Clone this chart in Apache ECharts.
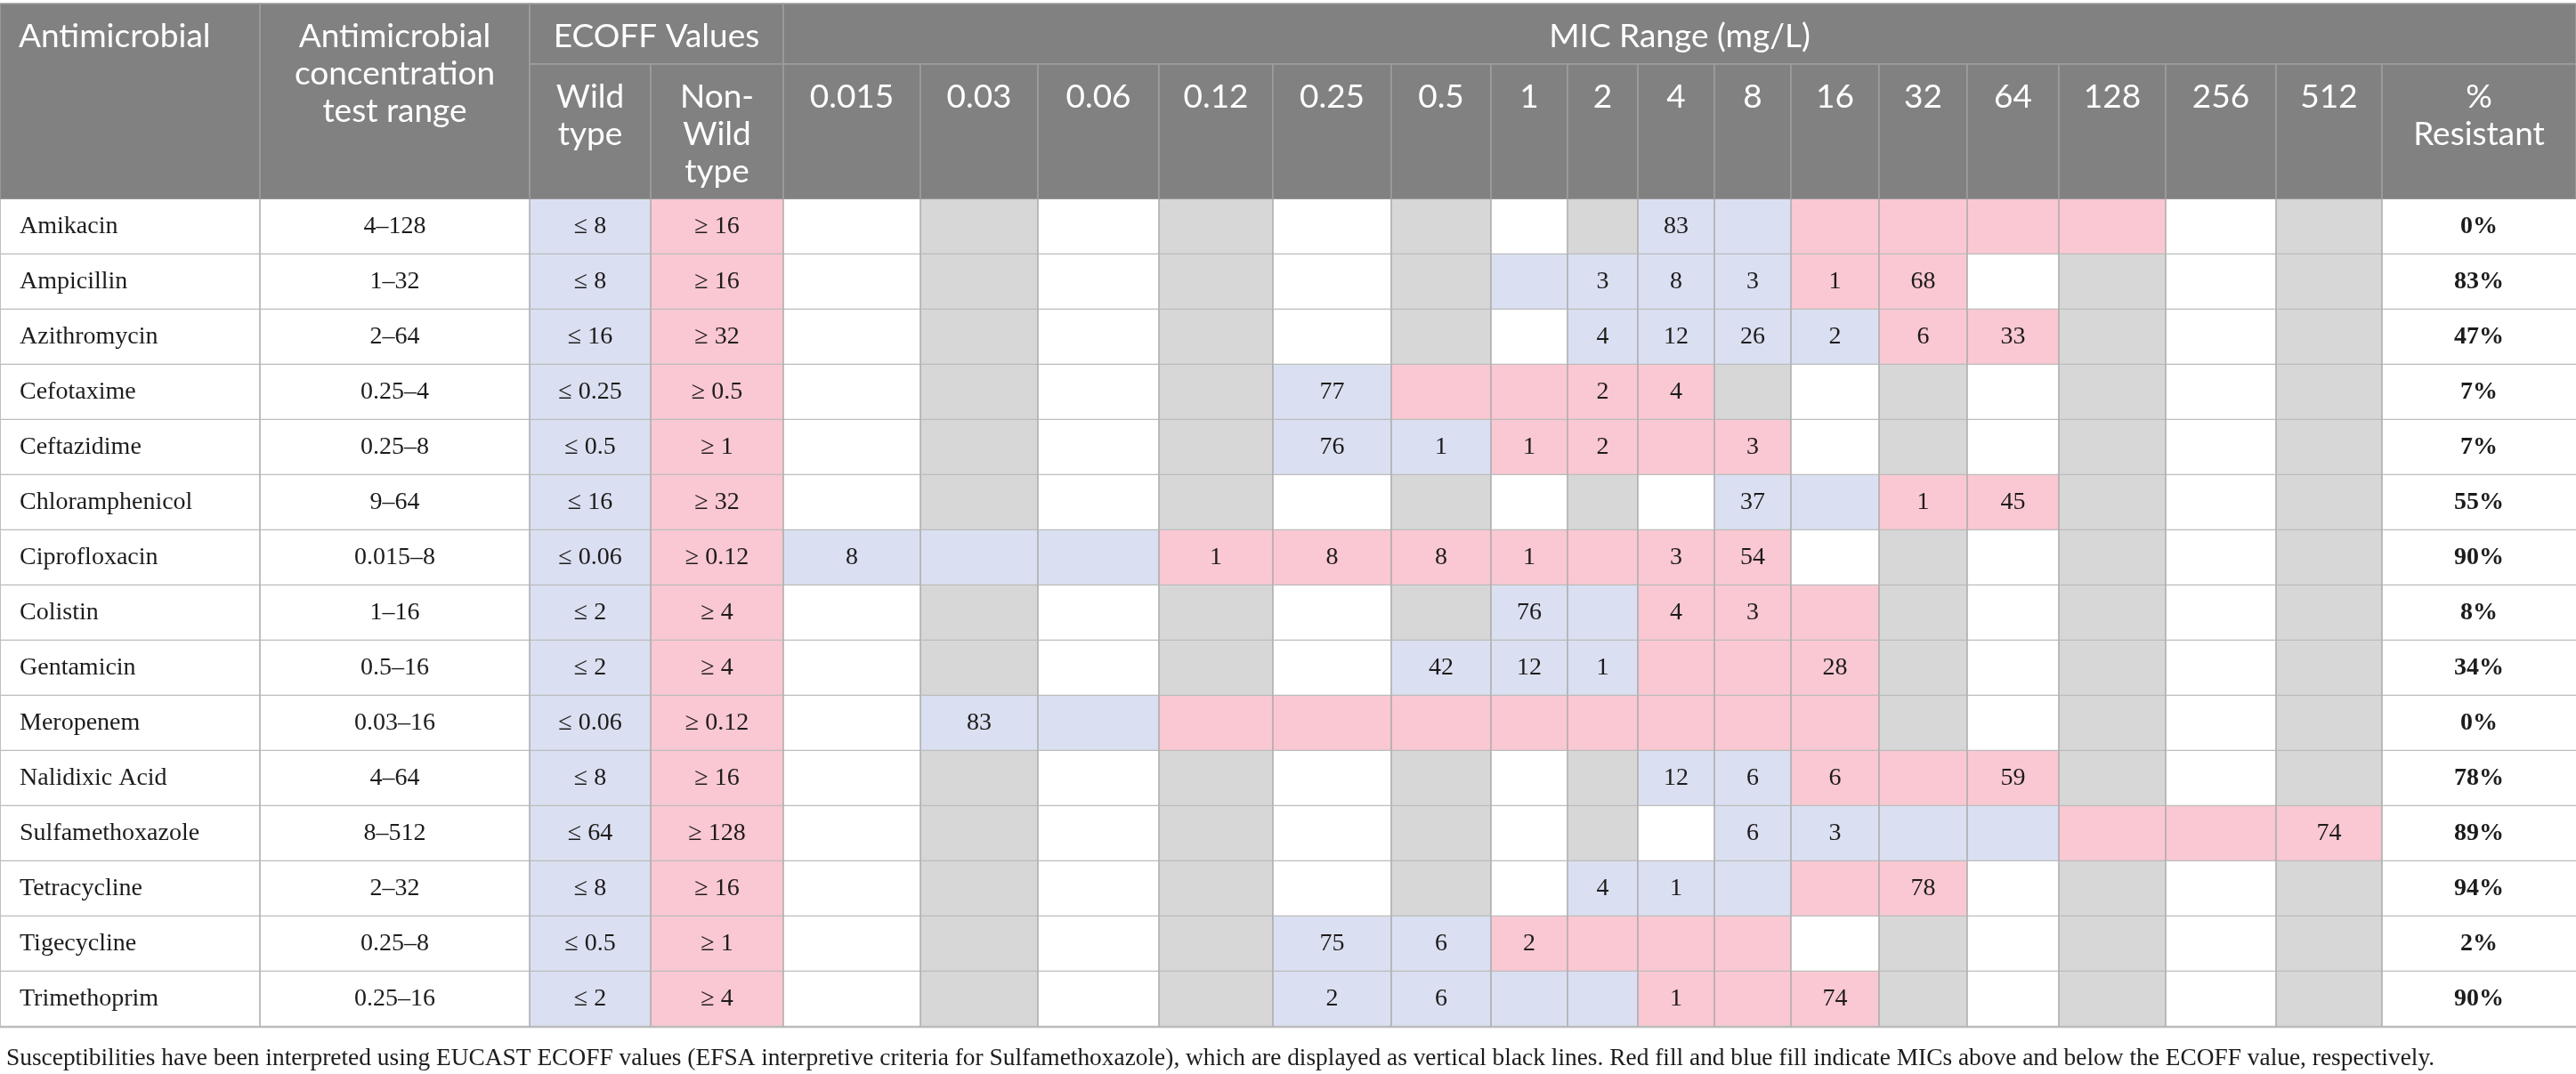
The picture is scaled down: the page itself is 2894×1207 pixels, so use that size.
<!DOCTYPE html>
<html>
<head>
<meta charset="utf-8">
<script src="https://cdn.jsdelivr.net/npm/echarts@6/dist/echarts.min.js"></script>
<style>
  html, body { margin: 0; padding: 0; background: #fff; }
  #chart { width: 2894px; height: 1207px; }
</style>
</head>
<body>
<div id="chart"></div>
<script>
const antimicrobials = ['Amikacin', 'Ampicillin', 'Azithromycin', 'Cefotaxime', 'Ceftazidime', 'Chloramphenicol',
  'Ciprofloxacin', 'Colistin', 'Gentamicin', 'Meropenem', 'Nalidixic Acid', 'Sulfamethoxazole',
  'Tetracycline', 'Tigecycline', 'Trimethoprim'];
const testRangeLabels = ['4–128', '1–32', '2–64', '0.25–4', '0.25–8', '9–64', '0.015–8', '1–16', '0.5–16',
  '0.03–16', '4–64', '8–512', '2–32', '0.25–8', '0.25–16'];
// tested concentrations (lowest / highest well)
const testLow = [4, 1, 2, 0.25, 0.25, 8, 0.015, 1, 0.5, 0.03, 4, 8, 2, 0.25, 0.25];
const testHigh = [128, 32, 64, 4, 8, 64, 8, 16, 16, 16, 64, 512, 32, 8, 16];
const wildTypeLabels = ['≤ 8', '≤ 8', '≤ 16', '≤ 0.25', '≤ 0.5', '≤ 16', '≤ 0.06', '≤ 2', '≤ 2', '≤ 0.06',
  '≤ 8', '≤ 64', '≤ 8', '≤ 0.5', '≤ 2'];
const nonWildLabels = ['≥ 16', '≥ 16', '≥ 32', '≥ 0.5', '≥ 1', '≥ 32', '≥ 0.12', '≥ 4', '≥ 4', '≥ 0.12',
  '≥ 16', '≥ 128', '≥ 16', '≥ 1', '≥ 4'];
const ecoffValues = [8, 8, 16, 0.25, 0.5, 16, 0.06, 2, 2, 0.06, 8, 64, 8, 0.5, 2];
const micLabels = ['0.015', '0.03', '0.06', '0.12', '0.25', '0.5', '1', '2', '4', '8', '16', '32', '64', '128', '256', '512'];
// number of isolates per MIC
const micCounts = [
  { '4': 83 },
  { '2': 3, '4': 8, '8': 3, '16': 1, '32': 68 },
  { '2': 4, '4': 12, '8': 26, '16': 2, '32': 6, '64': 33 },
  { '0.25': 77, '2': 2, '4': 4 },
  { '0.25': 76, '0.5': 1, '1': 1, '2': 2, '8': 3 },
  { '8': 37, '32': 1, '64': 45 },
  { '0.015': 8, '0.12': 1, '0.25': 8, '0.5': 8, '1': 1, '4': 3, '8': 54 },
  { '1': 76, '4': 4, '8': 3 },
  { '0.5': 42, '1': 12, '2': 1, '16': 28 },
  { '0.03': 83 },
  { '4': 12, '8': 6, '16': 6, '64': 59 },
  { '8': 6, '16': 3, '512': 74 },
  { '2': 4, '4': 1, '32': 78 },
  { '0.25': 75, '0.5': 6, '1': 2 },
  { '0.25': 2, '0.5': 6, '4': 1, '16': 74 }
];
const percentResistant = [0, 83, 47, 7, 7, 55, 90, 8, 34, 0, 78, 89, 94, 2, 90];
const caption = 'Susceptibilities have been interpreted using EUCAST ECOFF values (EFSA interpretive criteria for Sulfamethoxazole), which are displayed as vertical black lines. Red fill and blue fill indicate MICs above and below the ECOFF value, respectively.';

// ---- layout ----
const W = 2894, H = 1207;
const colEdges = [0, 292, 595, 731, 880, 1034, 1166, 1302, 1430, 1563, 1675, 1761, 1840, 1926, 2012,
  2111, 2210, 2313, 2433, 2557, 2676, 2894];
const tableTop = 4, headSplit = 72, headBottom = 224, rowH = 62;
const firstLine = 37, lineGap = 42;
const colors = {
  head: '#808180', headLine: '#9d9e9d', blue: '#dae0f1', pink: '#f9c8d2', grey: '#d7d7d7',
  white: '#ffffff', vLine: '#aaaaaa', hLine: '#bcbcbc', ink: '#1e1b1c'
};
const sansFont = 'Lato, "Open Sans", sans-serif';
const serifFont = '"Liberation Serif", "DejaVu Serif", serif';

// ---- header cells ----
const headerCells = [
  { c0: 0, c1: 1, top: true, full: true, lines: ['Antimicrobial'], left: true },
  { c0: 1, c1: 2, top: true, full: true, lines: ['Antimicrobial', 'concentration', 'test range'] },
  { c0: 2, c1: 4, top: true, lines: ['ECOFF Values'] },
  { c0: 2, c1: 3, lines: ['Wild', 'type'] },
  { c0: 3, c1: 4, lines: ['Non-', 'Wild', 'type'] },
  { c0: 4, c1: 21, top: true, lines: ['MIC Range (mg/L)'] }
];
micLabels.forEach((m, i) => headerCells.push({ c0: 4 + i, c1: 5 + i, lines: [m] }));
headerCells.push({ c0: 20, c1: 21, lines: ['%', 'Resistant'] });

// ---- body cells ----
const micValues = micLabels.map(Number);
const bodyCells = [];
antimicrobials.forEach((name, r) => {
  bodyCells.push({ c: 0, r, fill: 'white', text: name, left: true });
  bodyCells.push({ c: 1, r, fill: 'white', text: testRangeLabels[r] });
  bodyCells.push({ c: 2, r, fill: 'blue', text: wildTypeLabels[r] });
  bodyCells.push({ c: 3, r, fill: 'pink', text: nonWildLabels[r] });
  micValues.forEach((v, i) => {
    let fill = i % 2 ? 'grey' : 'white';
    if (v >= testLow[r] && v <= testHigh[r]) fill = v <= ecoffValues[r] ? 'blue' : 'pink';
    const n = micCounts[r][micLabels[i]];
    bodyCells.push({ c: 4 + i, r, fill, text: n == null ? '' : String(n) });
  });
  bodyCells.push({ c: 20, r, fill: 'white', text: percentResistant[r] + '%', bold: true });
});

function textEl(x, y, text, opt) {
  return {
    type: 'text',
    style: {
      text, x, y,
      align: opt.left ? 'left' : 'center',
      verticalAlign: 'middle',
      fill: opt.fill,
      fontSize: opt.size,
      fontFamily: opt.family,
      fontWeight: opt.bold ? 'bold' : 'normal'
    }
  };
}

function renderHeader(params, api) {
  const h = headerCells[params.dataIndex];
  const y0 = h.top ? tableTop : headSplit;
  const y1 = h.top && !h.full ? headSplit : headBottom;
  const p0 = api.coord([colEdges[h.c0], y0]);
  const p1 = api.coord([colEdges[h.c1], y1]);
  const children = [{
    type: 'rect',
    shape: { x: p0[0], y: p0[1], width: p1[0] - p0[0], height: p1[1] - p0[1] },
    style: { fill: colors.head, stroke: colors.headLine, lineWidth: 1.5 }
  }];
  h.lines.forEach((line, k) => {
    const tx = h.left ? p0[0] + 21 : (p0[0] + p1[0]) / 2;
    const ty = p0[1] + firstLine + k * lineGap;
    children.push(textEl(tx, ty, line, { left: h.left, fill: '#ffffff', size: 37, family: sansFont }));
  });
  return { type: 'group', children };
}

function renderBody(params, api) {
  const cell = bodyCells[params.dataIndex];
  const y0 = headBottom + cell.r * rowH;
  const p0 = api.coord([colEdges[cell.c], y0]);
  const p1 = api.coord([colEdges[cell.c + 1], y0 + rowH]);
  const children = [
    {
      type: 'rect',
      shape: { x: p0[0], y: p0[1], width: p1[0] - p0[0], height: p1[1] - p0[1] },
      style: { fill: colors[cell.fill] }
    },
    {
      type: 'line',
      shape: { x1: p0[0], y1: p0[1], x2: p0[0], y2: p1[1] },
      style: { stroke: colors.vLine, lineWidth: 1.5 }
    },
    {
      type: 'line',
      shape: { x1: p0[0], y1: p1[1], x2: p1[0], y2: p1[1] },
      style: { stroke: colors.hLine, lineWidth: 2.5 }
    }
  ];
  if (cell.text) {
    const tx = cell.left ? p0[0] + 22 : (p0[0] + p1[0]) / 2;
    children.push(textEl(tx, (p0[1] + p1[1]) / 2, cell.text,
      { left: cell.left, bold: cell.bold, fill: colors.ink, size: 28, family: serifFont }));
  }
  return { type: 'group', children };
}

const chart = echarts.init(document.getElementById('chart'));
chart.setOption({
  animation: false,
  backgroundColor: '#ffffff',
  title: {
    text: caption,
    left: 2,
    top: 1171,
    textStyle: { fontFamily: serifFont, fontSize: 27.4, fontWeight: 'normal', color: colors.ink }
  },
  grid: { left: 0, top: 0, width: W, height: H },
  xAxis: { type: 'value', min: 0, max: W, show: false },
  yAxis: { type: 'value', min: 0, max: H, inverse: true, show: false },
  series: [
    {
      type: 'custom',
      clip: false,
      silent: true,
      renderItem: renderHeader,
      data: headerCells.map((h, i) => [i, 0])
    },
    {
      type: 'custom',
      clip: false,
      silent: true,
      renderItem: renderBody,
      data: bodyCells.map((c) => [c.c, c.r])
    }
  ]
});
</script>
</body>
</html>
